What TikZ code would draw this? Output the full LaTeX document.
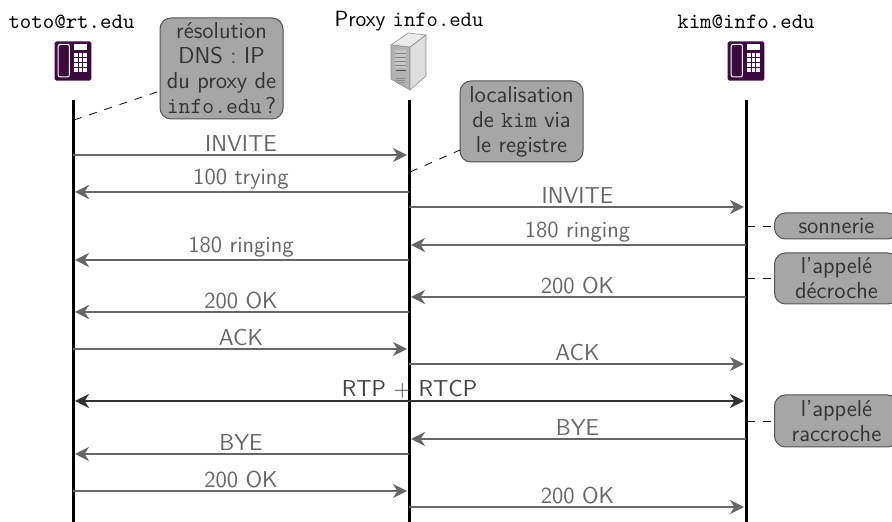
\documentclass[tikz,border=0pt]{standalone}
\usepackage{tikz}
\usetikzlibrary{calc}
\usetikzlibrary{arrows.meta}
\definecolor{phonecol}{HTML}{3B0A3F}
\definecolor{msgcol}{HTML}{666666}
\definecolor{notecol}{HTML}{A6A6A6}
\newcommand{\labelfont}{\sffamily\fontsize{11.5}{12.5}\selectfont}
\tikzset{
  lifeline/.style={black, line width=1.5pt},
  msg/.style={msgcol, line width=1.2pt, shorten >=1pt, -{Stealth[length=7pt,width=7pt,inset=2.2pt]}},
  msglabel/.style={msgcol, font=\labelfont, inner sep=1pt, anchor=south},
  note/.style={draw=msgcol!80!black, fill=notecol, rounded corners=5.5pt, line width=.5pt, text=black!80, font=\labelfont, align=center, inner sep=1pt},
  notelink/.style={black, line width=.4pt, dash pattern=on 4pt off 4pt},
  tag/.style={font=\ttfamily\fontsize{10.9}{13}\selectfont, inner sep=1pt},
  phone/.pic={
    \fill[phonecol, rounded corners=.8pt] (-9.2,-9.8) rectangle (9.2,9.8);
    \draw[white, line width=.5pt, rounded corners=1pt] (-7.4,-8) rectangle (-1.8,8.3);
    \fill[white] (.6,8.6) rectangle (7.2,5.5);
    \foreach \r in {0,...,3}
      \foreach \c in {0,...,2}
        \fill[white] ({.6+\c*2.3},{3.8-\r*2.5}) rectangle ++(1.8,-1.9);
  },
  server/.pic={
    \fill[black!30, draw=black!45, line width=.3pt] (-18,16) -- (1,14) -- (1,-29) -- (-18,-18) -- cycle;
    \fill[black!13, draw=black!45, line width=.3pt] (1,14) -- (17,26) -- (17,-15) -- (1,-29) -- cycle;
    \fill[black!8, draw=black!45, line width=.3pt] (-18,16) -- (-1,28) -- (17,26) -- (1,14) -- cycle;
    \fill[black!22] (-14,11) rectangle (-3,-7);
    \foreach \y in {8,4,...,-6}
      \draw[black!50, line width=.3pt] (-14,\y) -- (-3,\y);
    \fill[black!70] (-13,-9) rectangle (-3,-10.5);
    \foreach \y in {-17,-19,-21}
      \draw[black!45, line width=.25pt] (-13,\y) -- (-4,\y);
  }
}
\begin{document}
\begin{tikzpicture}[x=.5pt, y=.5pt]
\useasboundingbox (0,0) rectangle (892,522);

% lifelines
\coordinate (totoA) at (73,422);
\coordinate (totoB) at (73,0);
\coordinate (proxyA) at (409,422);
\coordinate (proxyB) at (409,0);
\coordinate (kimA) at (746,422);
\coordinate (kimB) at (746,0);
\draw[lifeline] (totoA) -- (totoB);
\draw[lifeline] (proxyA) -- (proxyB);
\draw[lifeline] (kimA) -- (kimB);

% entities
\node[tag] (toto) at (71.5,500) {toto@rt.edu};
\node[tag, font=\sffamily\fontsize{11}{13}\selectfont] (proxy) at (409,501) {Proxy \texttt{info.edu}};
\node[tag] (kim) at (746,500) {kim@info.edu};
\pic[scale=2] at (73,461) {phone};
\pic[scale=2] at (746,461) {phone};
\pic at (409,461) {server};

% messages
\foreach \i/\xa/\xb/\y/\txt in {
  1/73/409/367/INVITE, 2/409/73/330/100 trying,
  3/409/746/315/INVITE, 4/746/409/277/180 ringing,
  5/409/73/262/180 ringing, 6/746/409/225/200 OK,
  7/409/73/210/200 OK, 8/73/409/173/ACK,
  9/409/746/158/ACK, 11/746/409/83/BYE,
  12/409/73/68/BYE, 13/73/409/31/200 OK,
  14/409/746/15/200 OK}{
  \coordinate (m\i a) at (\xa,\y);
  \coordinate (m\i b) at (\xb,\y);
  \draw[msg] (m\i a) -- node[msglabel]{\txt} (m\i b);
}
\coordinate (rtpA) at (73,121);
\coordinate (rtpB) at (746,121);
\draw[msg, black!80, shorten <=1pt, {Stealth[length=7pt,width=7pt,inset=2.2pt]}-{Stealth[length=7pt,width=7pt,inset=2.2pt]}] (rtpA) -- node[msglabel, text=black!75]{RTP + RTCP} (rtpB);

% notes
\node[note, minimum width=61.5pt, minimum height=50.5pt] (dns) at (221.5,453.5) {r\'esolution\\DNS : IP\\du proxy de\\\texttt{info.edu}\,?};
\node[note, minimum width=61.5pt, minimum height=40.5pt] (loc) at (521.5,400.5) {localisation\\de \texttt{kim} via\\le registre};
\node[note, minimum width=62pt, minimum height=13pt, anchor=west] (ring) at (774,296) {sonnerie};
\node[note, minimum width=62pt, minimum height=25.5pt, anchor=west] (dec) at (774,243.5) {l'appel\'e\\d\'ecroche};
\node[note, minimum width=62pt, minimum height=26pt, anchor=west] (rac) at (774,101) {l'appel\'e\\raccroche};

\coordinate (dnsL) at (74,402);
\coordinate (dnsE) at (157,430);
\coordinate (locL) at (410,350);
\coordinate (locE) at (460,372);
\coordinate (ringL) at (747,296);
\coordinate (decL) at (747,244);
\coordinate (racL) at (747,101);
\draw[notelink] (dnsL) -- (dnsE);
\draw[notelink] (locL) -- (locE);
\draw[notelink] (ringL) -- (ring.west);
\draw[notelink] (decL) -- (dec.west |- decL);
\draw[notelink] (racL) -- (rac.west |- racL);

\end{tikzpicture}
\end{document}
